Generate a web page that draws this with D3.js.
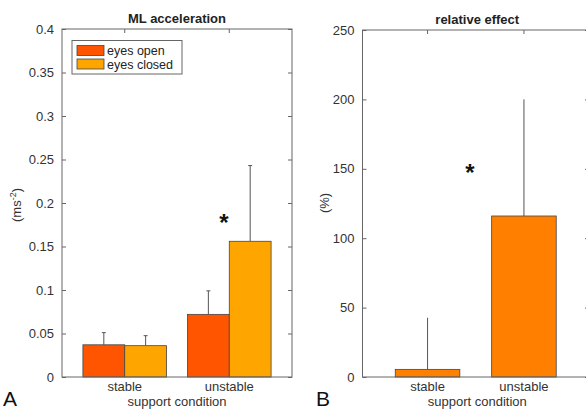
<!DOCTYPE html>
<html><head><meta charset="utf-8">
<script src="https://cdn.jsdelivr.net/npm/d3@7"></script>
<style>body{margin:0;background:#fff}text{font-family:"Liberation Sans",Arial,sans-serif}</style>
</head><body><svg id="c" width="586" height="411"></svg>
<script>
const categories = ["stable", "unstable"];
const seriesNames = ["eyes open", "eyes closed"];
const eyesOpen = [0.037, 0.072];
const eyesOpenErr = [0.051, 0.099];
const eyesClosed = [0.036, 0.156];
const eyesClosedErr = [0.0475, 0.243];
const relEffect = [5.5, 116];
const relEffectErr = [42.7, 200];
const ticksA = [0, 0.05, 0.1, 0.15, 0.2, 0.25, 0.3, 0.35, 0.4];
const ticksB = [0, 50, 100, 150, 200, 250];
const colors = ["#ff5400", "#ffa500"];
const colorB = "#ff8000";

const svg = d3.select("#c");
const axisCol = "#666", textCol = "#333";

function panel(opt) {
  const g = svg.append("g");
  const x = d3.scaleBand().domain(categories).range([opt.x0, opt.x1]).paddingInner(opt.pi).paddingOuter(opt.po);
  const y = d3.scaleLinear().domain(opt.domain).range([377, opt.top]);
  opt.series.forEach((s, si) => {
    const sub = d3.scaleBand().domain(d3.range(opt.series.length)).range([0, x.bandwidth()]);
    categories.forEach((c, i) => {
      const bx = x(c) + sub(si), bw = sub.bandwidth();
      const cx = bx + bw / 2;
      g.append("line").attr("x1", cx).attr("x2", cx).attr("y1", y(s.v[i])).attr("y2", y(s.e[i]))
        .attr("stroke", "#555").attr("stroke-width", 1);
      if (opt.cap) g.append("line").attr("x1", cx - 2).attr("x2", cx + 2).attr("y1", y(s.e[i])).attr("y2", y(s.e[i]))
        .attr("stroke", "#555").attr("stroke-width", 1);
      g.append("rect").attr("x", bx).attr("y", y(s.v[i])).attr("width", bw).attr("height", y(0) - y(s.v[i]))
        .attr("fill", s.color).attr("stroke", "#444").attr("stroke-width", 0.8);
    });
  });
  g.append("rect").attr("x", opt.x0).attr("y", opt.top).attr("width", opt.x1 - opt.x0).attr("height", 377 - opt.top)
    .attr("fill", "none").attr("stroke", axisCol).attr("stroke-width", 1);
  const ax = g.append("g").attr("transform", `translate(${opt.x0},0)`)
    .call(d3.axisLeft(y).tickValues(opt.ticks).tickSize(-4).tickPadding(8).tickFormat(opt.fmt));
  ax.select(".domain").remove();
  ax.selectAll("line").attr("stroke", axisCol);
  ax.selectAll("text").attr("fill", textCol).style("font-size", "13px").style("font-family", "Liberation Sans, Arial, sans-serif");
  const ar = g.append("g").attr("transform", `translate(${opt.x1},0)`)
    .call(d3.axisRight(y).tickValues(opt.ticks).tickSize(-4).tickFormat(""));
  ar.select(".domain").remove(); ar.selectAll("line").attr("stroke", axisCol);
  const xb = g.append("g").attr("transform", `translate(0,377)`).call(d3.axisBottom(x).tickSize(0).tickPadding(5));
  xb.select(".domain").remove();
  xb.selectAll("text").attr("fill", textCol).style("font-size", "13px").style("font-family", "Liberation Sans, Arial, sans-serif");
  const xt = g.append("g").attr("transform", `translate(0,${opt.top})`).call(d3.axisTop(x).tickSize(-4).tickFormat(""));
  xt.select(".domain").remove(); xt.selectAll("line").attr("stroke", axisCol);
  g.append("text").attr("x", (opt.x0 + opt.tx1) / 2).attr("y", opt.top - 6).attr("text-anchor", "middle")
    .attr("font-weight", "bold").attr("font-size", 13).attr("fill", "#222").text(opt.title);
  g.append("text").attr("x", (opt.x0 + opt.tx1) / 2).attr("y", 406).attr("text-anchor", "middle")
    .attr("font-size", 13).attr("fill", textCol).text("support condition");
  g.append("text").attr("transform", `translate(${opt.ylx},${opt.yly}) rotate(-90)`).attr("text-anchor", "middle")
    .attr("font-size", 13).attr("fill", textCol).html(opt.ylabel);
  g.append("text").attr("x", opt.px).attr("y", 406).attr("font-size", 21).attr("fill", "#111").text(opt.letter);
  g.append("text").attr("x", opt.sx).attr("y", opt.sy).attr("text-anchor", "middle").attr("font-size", 24).attr("font-weight", "bold")
    .attr("fill", "#111").text("*");
  return { g, x, y };
}

panel({
  x0: 62, x1: 292, tx1: 292, top: 29, domain: [0, 0.4], ticks: ticksA, fmt: d => d === 0 ? "0" : String(d),
  pi: 0.2, po: 0.2, cap: true,
  series: [{ v: eyesOpen, e: eyesOpenErr, color: colors[0] }, { v: eyesClosed, e: eyesClosedErr, color: colors[1] }],
  title: "ML acceleration", ylabel: '(ms<tspan dy="-5" font-size="9">-2</tspan><tspan dy="5">)</tspan>', ylx: 21, yly: 205,
  letter: "A", px: 3, sx: 224, sy: 231
});
panel({
  x0: 362.5, x1: 589, tx1: 592, top: 30, domain: [0, 250], ticks: ticksB, fmt: d3.format("d"),
  pi: 0.33, po: 0.34, cap: false,
  series: [{ v: relEffect, e: relEffectErr, color: colorB }],
  title: "relative effect", ylabel: "(%)", ylx: 329, yly: 203,
  letter: "B", px: 316, sx: 470, sy: 181
});

const lg = svg.append("g");
lg.append("rect").attr("x", 72).attr("y", 40.5).attr("width", 110).attr("height", 33.5)
  .attr("fill", "#fff").attr("stroke", axisCol).attr("stroke-width", 1);
seriesNames.forEach((n, i) => {
  lg.append("rect").attr("x", 77).attr("y", 45.5 + i * 13.5).attr("width", 27).attr("height", 10)
    .attr("fill", colors[i]).attr("stroke", "#444").attr("stroke-width", 0.8);
  lg.append("text").attr("x", 107).attr("y", 55 + i * 13.5).attr("font-size", 12.5).attr("fill", "#222").text(n);
});
</script></body></html>
